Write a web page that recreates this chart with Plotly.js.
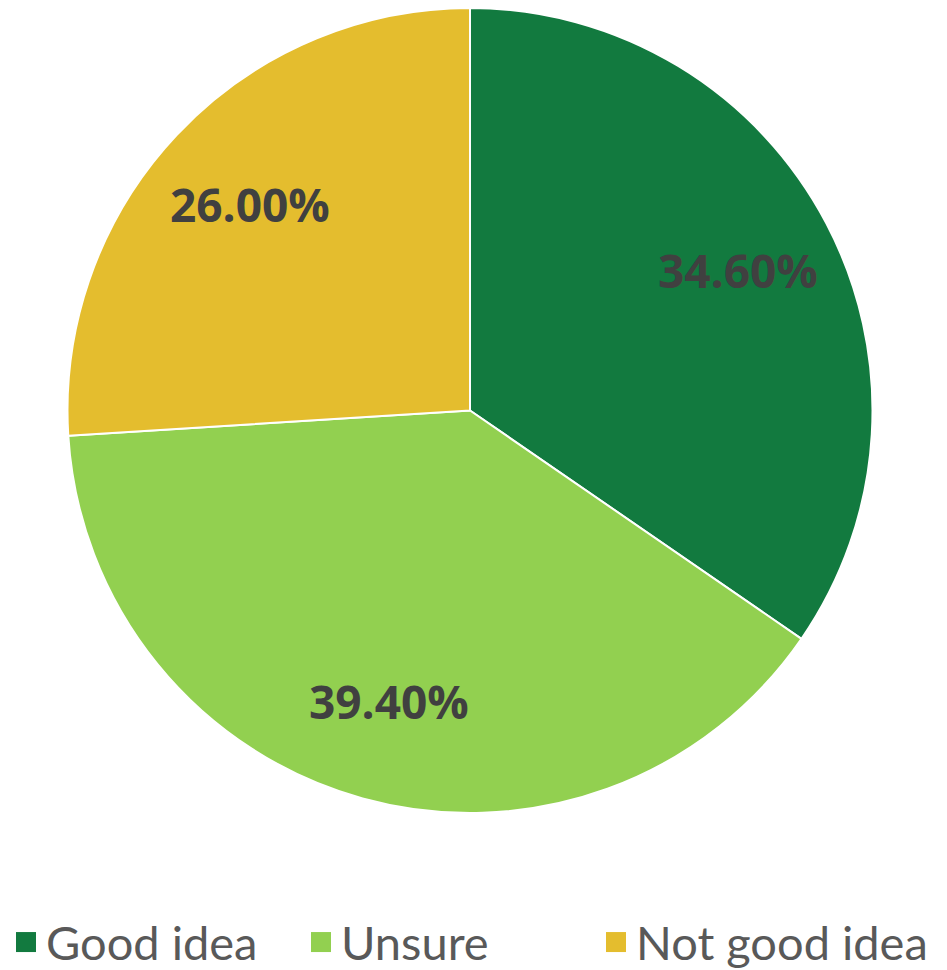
<!DOCTYPE html>
<html><head><meta charset="utf-8">
<script src="https://cdn.plot.ly/plotly-3.0.1.min.js"></script>
<style>html,body{margin:0;padding:0;background:#fff}#chart{width:947px;height:970px}</style>
</head><body><div id="chart"></div>
<script>
const categories = ["Good idea", "Unsure", "Not good idea"];
const shares = [34.6, 39.4, 26.0];
const colors = ["#127A3F", "#92D050", "#E4BD2E"];

const W = 947, H = 970;
const dom = {x: [67/W, 873/W], y: [157/H, 962/H]};

const trace = {
  type: "pie",
  labels: categories,
  values: shares,
  sort: false,
  direction: "clockwise",
  rotation: 0,
  marker: {colors: colors, line: {color: "#ffffff", width: 2}},
  textinfo: "none",
  hoverinfo: "label+percent",
  domain: dom
};

// data labels placed at 0.75 of the radius along each slice's mid-angle
const total = shares.reduce((a, b) => a + b, 0);
const cx = (dom.x[0] + dom.x[1]) / 2, cy = (dom.y[0] + dom.y[1]) / 2;
const rx = (dom.x[1] - dom.x[0]) / 2, ry = (dom.y[1] - dom.y[0]) / 2;
let cum = 0;
const annotations = shares.map(v => {
  const mid = (cum + v / 2) / total * 2 * Math.PI;
  cum += v;
  return {
    xref: "paper", yref: "paper",
    x: cx + 0.75 * rx * Math.sin(mid),
    y: cy + 0.75 * ry * Math.cos(mid),
    text: (v / total * 100).toFixed(2) + "%",
    showarrow: false,
    xanchor: "center", yanchor: "middle",
    font: {family: "Open Sans, sans-serif", size: 46, color: "#404040", weight: "bold"}
  };
});

const layout = {
  width: W, height: H,
  margin: {l: 0, r: 0, t: 0, b: 0},
  paper_bgcolor: "#ffffff",
  showlegend: true,
  annotations: annotations,
  legend: {
    orientation: "h", x: 6 / W, xanchor: "left", y: 0, yanchor: "bottom",
    font: {family: "Lato, sans-serif", size: 47, color: "#595959"},
    itemwidth: 30, entrywidth: 250, entrywidthmode: "pixels"
  }
};

function tidyLegend(gd) {
  gd.querySelectorAll(".legend .legendpoints path").forEach(p => {
    p.setAttribute("d", "M10,10H-10V-10H10Z");
    p.style.strokeWidth = "0px";
  });
  gd.querySelectorAll(".legend .scrollbox, .legend").forEach(g => g.removeAttribute("clip-path"));
  const lg = gd.querySelector(".legend");
  if (lg && !lg.dataset.shifted) {
    const m = /translate\(([-\d.]+)[ ,]+([-\d.]+)\)/.exec(lg.getAttribute("transform") || "");
    if (m) {
      lg.setAttribute("transform", `translate(${m[1]},${parseFloat(m[2]) + 10})`);
      lg.dataset.shifted = "1";
    }
  }
}
Plotly.newPlot("chart", [trace], layout, {displayModeBar: false, staticPlot: true}).then(gd => {
  tidyLegend(gd);
  setTimeout(() => tidyLegend(gd), 50);
});
</script></body></html>
